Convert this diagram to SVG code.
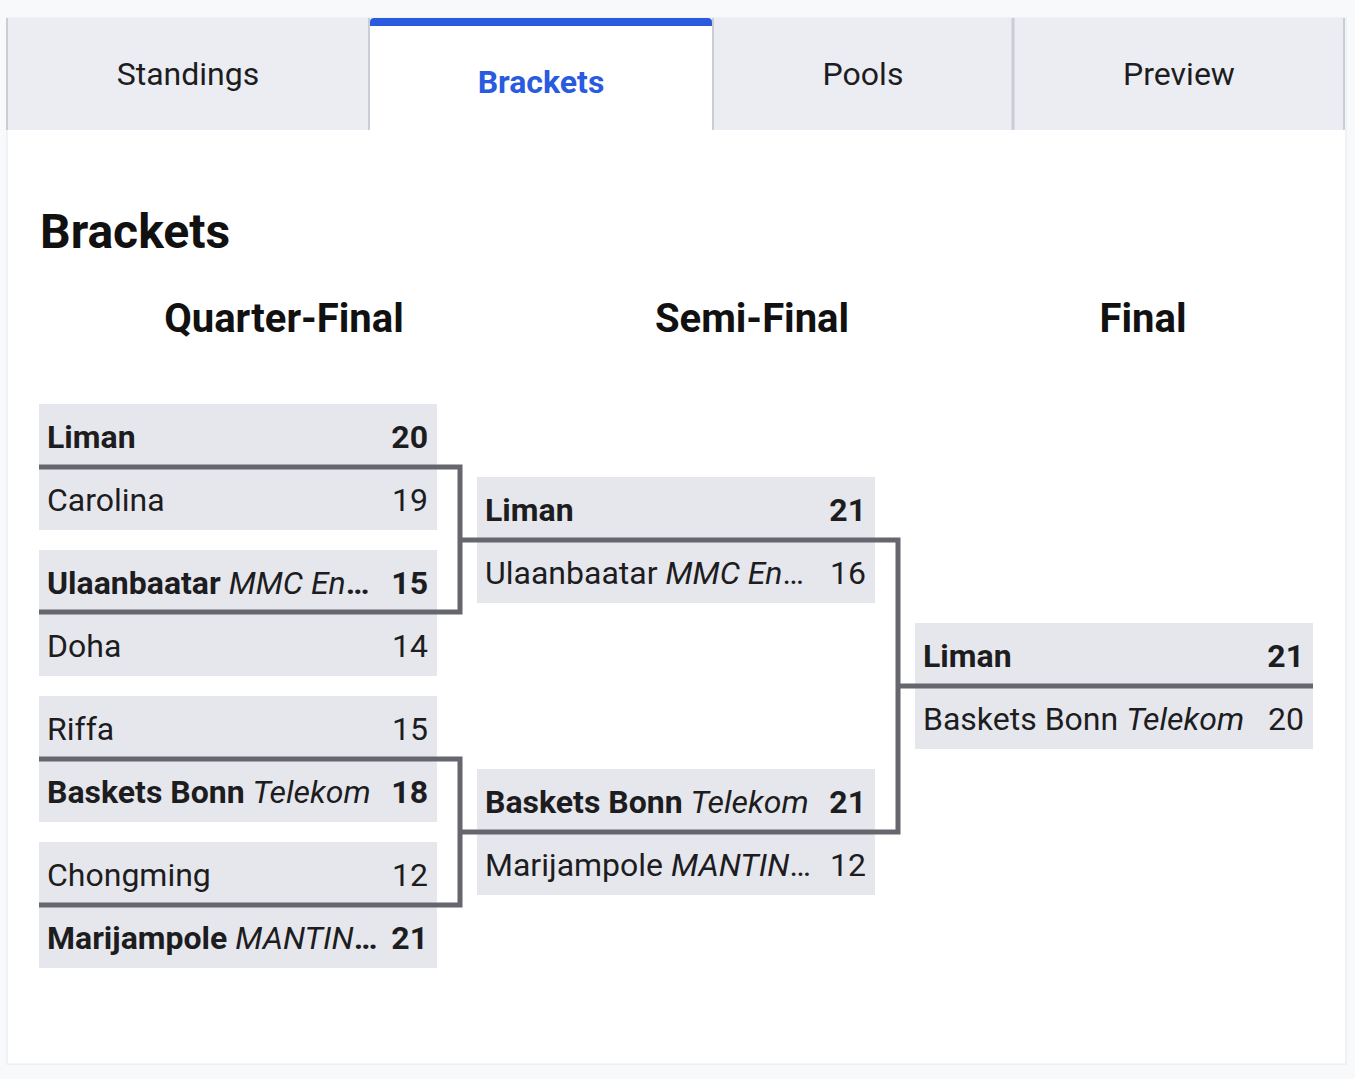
<svg xmlns="http://www.w3.org/2000/svg" width="1355" height="1079" viewBox="0 0 1355 1079">
<style>
text{font-family:Roboto,"Liberation Sans",sans-serif;fill:#1d1d1f}
.tab{fill:#ecedf2}
.tabl{font-size:32px;text-anchor:middle}
.box{fill:#e6e7ec}
.t{font-size:32px}
.b{font-weight:bold}
.i{font-style:italic;font-weight:normal}
.s{text-anchor:end}
.con{fill:none;stroke:#66666e;stroke-width:5}
</style>
<rect width="1355" height="1079" fill="#f8f9fb"/>
<rect x="7" y="18" width="1339" height="1046" fill="#ffffff" stroke="#e6e8ec" stroke-width="1"/>
<g id="tab-standings"><rect class="tab" x="7" y="18" width="362" height="112"/><line x1="7" y1="18" x2="7" y2="130" stroke="#c9cdd5" stroke-width="2"/><text class="tabl" x="188" y="85">Standings</text></g>
<g id="tab-brackets"><rect x="370" y="18" width="342" height="112" fill="#ffffff"/><line x1="369" y1="18" x2="369" y2="130" stroke="#c9cdd5" stroke-width="2"/><path d="M370 26V22a4 4 0 0 1 4-4h334a4 4 0 0 1 4 4v4z" fill="#2a5bde"/><text class="tabl b" x="541" y="93" style="fill:#2a5bde">Brackets</text></g>
<g id="tab-pools"><rect class="tab" x="713" y="18" width="300" height="112"/><line x1="713" y1="18" x2="713" y2="130" stroke="#c9cdd5" stroke-width="2"/><text class="tabl" x="863" y="85">Pools</text></g>
<g id="tab-preview"><rect class="tab" x="1013" y="18" width="331" height="112"/><line x1="1013" y1="18" x2="1013" y2="130" stroke="#c9cdd5" stroke-width="3"/><line x1="1344" y1="18" x2="1344" y2="130" stroke="#c9cdd5" stroke-width="2"/><text class="tabl" x="1179" y="85">Preview</text></g>
<text x="40" y="248" font-size="48" class="b" style="fill:#111">Brackets</text>
<text x="284" y="332" font-size="40" class="b" text-anchor="middle" style="fill:#111">Quarter-Final</text>
<text x="752" y="332" font-size="40" class="b" text-anchor="middle" style="fill:#111">Semi-Final</text>
<text x="1143" y="332" font-size="40" class="b" text-anchor="middle" style="fill:#111">Final</text>
<g id="qf1">
<rect class="box" x="39" y="404" width="398" height="126"/>
<text class="t b" x="47" y="448">Liman</text><text class="t b s" x="428" y="448">20</text>
<text class="t" x="47" y="511">Carolina</text><text class="t s" x="428" y="511">19</text>
</g>
<g id="qf2">
<rect class="box" x="39" y="550" width="398" height="126"/>
<text class="t b" x="47" y="594">Ulaanbaatar <tspan class="i">MMC En</tspan>…</text><text class="t b s" x="428" y="594">15</text>
<text class="t" x="47" y="657">Doha</text><text class="t s" x="428" y="657">14</text>
</g>
<g id="qf3">
<rect class="box" x="39" y="696" width="398" height="126"/>
<text class="t" x="47" y="740">Riffa</text><text class="t s" x="428" y="740">15</text>
<text class="t b" x="47" y="803">Baskets Bonn <tspan class="i">Telekom</tspan></text><text class="t b s" x="428" y="803">18</text>
</g>
<g id="qf4">
<rect class="box" x="39" y="842" width="398" height="126"/>
<text class="t" x="47" y="886">Chongming</text><text class="t s" x="428" y="886">12</text>
<text class="t b" x="47" y="949">Marijampole <tspan class="i">MANTIN</tspan>…</text><text class="t b s" x="428" y="949">21</text>
</g>
<g id="sf1">
<rect class="box" x="477" y="477" width="398" height="126"/>
<text class="t b" x="485" y="521">Liman</text><text class="t b s" x="866" y="521">21</text>
<text class="t" x="485" y="584">Ulaanbaatar <tspan class="i">MMC En</tspan>…</text><text class="t s" x="866" y="584">16</text>
</g>
<g id="sf2">
<rect class="box" x="477" y="769" width="398" height="126"/>
<text class="t b" x="485" y="813">Baskets Bonn <tspan class="i">Telekom</tspan></text><text class="t b s" x="866" y="813">21</text>
<text class="t" x="485" y="876">Marijampole <tspan class="i">MANTIN</tspan>…</text><text class="t s" x="866" y="876">12</text>
</g>
<g id="final">
<rect class="box" x="915" y="623" width="398" height="126"/>
<text class="t b" x="923" y="667">Liman</text><text class="t b s" x="1304" y="667">21</text>
<text class="t" x="923" y="730">Baskets Bonn <tspan class="i">Telekom</tspan></text><text class="t s" x="1304" y="730">20</text>
</g>
<g id="connectors">
<path class="con" d="M39 467H460V612H39M460 540H477"/>
<path class="con" d="M39 759H460V905H39M460 832H477"/>
<path class="con" d="M477 540H898V832H477M898 686H1313"/>
</g>
</svg>
